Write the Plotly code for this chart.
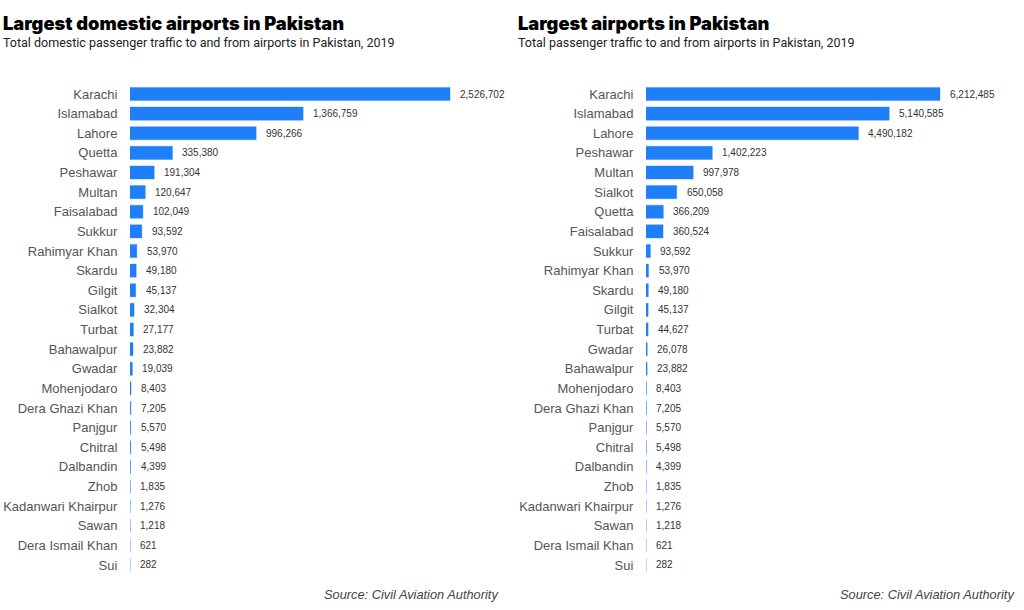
import plotly.graph_objects as go

dom_airports = ["Karachi", "Islamabad", "Lahore", "Quetta", "Peshawar", "Multan", "Faisalabad",
                "Sukkur", "Rahimyar Khan", "Skardu", "Gilgit", "Sialkot", "Turbat", "Bahawalpur",
                "Gwadar", "Mohenjodaro", "Dera Ghazi Khan", "Panjgur", "Chitral", "Dalbandin",
                "Zhob", "Kadanwari Khairpur", "Sawan", "Dera Ismail Khan", "Sui"]
dom_values = [2526702, 1366759, 996266, 335380, 191304, 120647, 102049, 93592, 53970, 49180,
              45137, 32304, 27177, 23882, 19039, 8403, 7205, 5570, 5498, 4399, 1835, 1276,
              1218, 621, 282]

all_airports = ["Karachi", "Islamabad", "Lahore", "Peshawar", "Multan", "Sialkot", "Quetta",
                "Faisalabad", "Sukkur", "Rahimyar Khan", "Skardu", "Gilgit", "Turbat", "Gwadar",
                "Bahawalpur", "Mohenjodaro", "Dera Ghazi Khan", "Panjgur", "Chitral", "Dalbandin",
                "Zhob", "Kadanwari Khairpur", "Sawan", "Dera Ismail Khan", "Sui"]
all_values = [6212485, 5140585, 4490182, 1402223, 997978, 650058, 366209, 360524, 93592, 53970,
              49180, 45137, 44627, 26078, 23882, 8403, 7205, 5570, 5498, 4399, 1835, 1276,
              1218, 621, 282]

titles = ["Largest domestic airports in Pakistan", "Largest airports in Pakistan"]
subtitles = ["Total domestic passenger traffic to and from airports in Pakistan, 2019",
             "Total passenger traffic to and from airports in Pakistan, 2019"]
source = "Source: Civil Aviation Authority"

BAR = "#1f7ff8"
W, H = 1024, 610


def px(x):
    return x / W


def py(y):
    return 1 - y / H


fig = go.Figure()
panels = [
    (dom_airports, dom_values, "x", "y", [px(130), px(500)], 2921000, px(1), px(501)),
    (all_airports, all_values, "x2", "y2", [px(646), px(1010)], 7692000, px(516), px(1017)),
]
ydom = [py(574.8), py(84.2)]
annotations = []
for i, (cats, vals, xa, ya, xdom, xmax, tx, sx) in enumerate(panels):
    fig.add_trace(go.Bar(
        x=vals, y=cats, orientation="h", xaxis=xa, yaxis=ya,
        marker=dict(color=BAR, line=dict(color="rgba(31,127,248,0.35)", width=1)),
        width=0.67, hoverinfo="x+y", showlegend=False,
    ))
    for c, v in zip(cats, vals):
        annotations.append(dict(
            x=v, y=c, xref=xa, yref=ya, text=f"{v:,}", showarrow=False,
            xanchor="left", yanchor="middle", xshift=8,
            font=dict(family="Liberation Sans, Arial", size=10, color="#333333"),
        ))
    sfx = "" if i == 0 else "2"
    fig.layout["xaxis" + sfx] = dict(domain=xdom, range=[0, xmax], visible=False,
                                     anchor="y" + sfx, fixedrange=True, automargin=False)
    fig.layout["yaxis" + sfx] = dict(
        domain=ydom, anchor="x" + sfx, autorange="reversed", showgrid=False,
        showline=False, zeroline=False, ticks="outside", ticklen=9,
        tickcolor="rgba(0,0,0,0)", automargin=False, fixedrange=True,
        tickfont=dict(family="Liberation Sans, Arial", size=13, color="#555555"),
    )
    annotations.append(dict(
        x=tx, y=py(23), xref="paper", yref="paper", xanchor="left", yanchor="middle",
        text=titles[i], showarrow=False,
        font=dict(family="Inter", size=18.3, color="#000000", weight=900),
    ))
    annotations.append(dict(
        x=tx, y=py(42), xref="paper", yref="paper", xanchor="left", yanchor="middle",
        text=subtitles[i], showarrow=False,
        font=dict(family="Roboto", size=12.5, color="#222222"),
    ))
    annotations.append(dict(
        x=sx, y=py(594), xref="paper", yref="paper", xanchor="right", yanchor="middle",
        text=f"<i>{source}</i>", showarrow=False,
        font=dict(family="Liberation Sans, Arial", size=12.8, color="#444444"),
    ))

fig.update_layout(
    width=W, height=H, margin=dict(l=0, r=0, t=0, b=0),
    paper_bgcolor="white", plot_bgcolor="white",
    annotations=annotations, bargap=0.33,
)
fig.write_html("out.html", config={"displayModeBar": False},
               post_script="document.body.style.margin='0';")
